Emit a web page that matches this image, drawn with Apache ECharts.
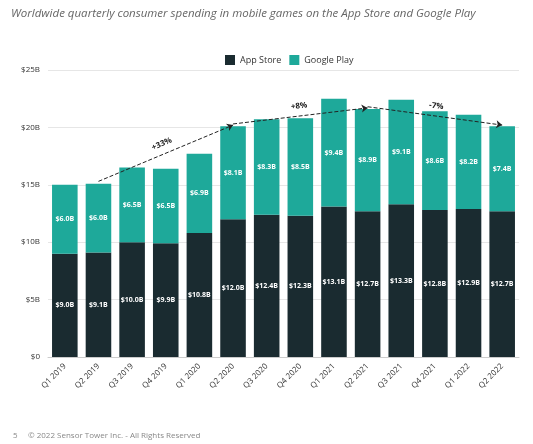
<!DOCTYPE html>
<html><head><meta charset="utf-8">
<script src="https://cdn.jsdelivr.net/npm/echarts@6/dist/echarts.min.js"></script>
<style>html,body{margin:0;padding:0;background:#fff}#c{width:533px;height:444px}</style>
</head><body><div id="c"></div>
<script>
const quarters = ["Q1 2019","Q2 2019","Q3 2019","Q4 2019","Q1 2020","Q2 2020","Q3 2020","Q4 2020","Q1 2021","Q2 2021","Q3 2021","Q4 2021","Q1 2022","Q2 2022"];
const appStore = [9.0,9.1,10.0,9.9,10.8,12.0,12.4,12.3,13.1,12.7,13.3,12.8,12.9,12.7];
const googlePlay = [6.0,6.0,6.5,6.5,6.9,8.1,8.3,8.5,9.4,8.9,9.1,8.6,8.2,7.4];
const growth = [["Q2 2019","Q2 2020","+33%"],["Q2 2020","Q2 2021","+8%"],["Q2 2021","Q2 2022","-7%"]];

const total = q => { const i = quarters.indexOf(q); return appStore[i] + googlePlay[i]; };
const arrows = growth.map(g => [
  { coord: [g[0], total(g[0]) + 0.2] },
  { coord: [g[1], total(g[1]) + 0.1], label: { formatter: g[2] } }
]);

const chart = echarts.init(document.getElementById("c"));
const barLabel = { show: true, color: "#fff", fontSize: 7, fontWeight: "bold", formatter: p => "$" + p.value.toFixed(1) + "B" };
chart.setOption({
  animation: false,
  textStyle: { fontFamily: "Open Sans" },
  title: [
    { text: "Worldwide quarterly consumer spending in mobile games on the App Store and Google Play", left: 6, top: 3, textStyle: { fontSize: 11.5, fontStyle: "italic", fontWeight: "normal", color: "#666" } },
    { text: "5     © 2022 Sensor Tower Inc. - All Rights Reserved", left: 8, top: 427, textStyle: { fontSize: 8, fontWeight: "normal", color: "#888" } }
  ],
  legend: { top: 50, left: 220, itemWidth: 10, itemHeight: 10, icon: "rect", textStyle: { fontSize: 9, color: "#333" } },
  grid: { left: 48, right: 14, top: 70, bottom: 87 },
  xAxis: { type: "category", data: quarters, axisTick: { show: false }, axisLine: { lineStyle: { color: "#ccc" } },
    axisLabel: { rotate: 45, fontSize: 8, color: "#333", interval: 0 } },
  yAxis: { type: "value", min: 0, max: 25, interval: 5, splitLine: { lineStyle: { color: "#e6e6e6" } },
    axisLabel: { formatter: v => "$" + v + (v ? "B" : ""), fontSize: 8, color: "#333" } },
  series: [
    { name: "App Store", type: "bar", stack: "s", data: appStore, barWidth: "76%", itemStyle: { color: "#1a2b30" }, label: barLabel },
    { name: "Google Play", type: "bar", stack: "s", data: googlePlay, itemStyle: { color: "#1ea99a" }, label: barLabel,
      markLine: { silent: true, symbol: ["none", "arrow"], symbolSize: 6,
        lineStyle: { type: "dashed", color: "#222", width: 1 },
        label: { position: "middle", color: "#222", fontSize: 8, fontWeight: "bold", distance: 6 },
        data: arrows } }
  ]
});
</script></body></html>
